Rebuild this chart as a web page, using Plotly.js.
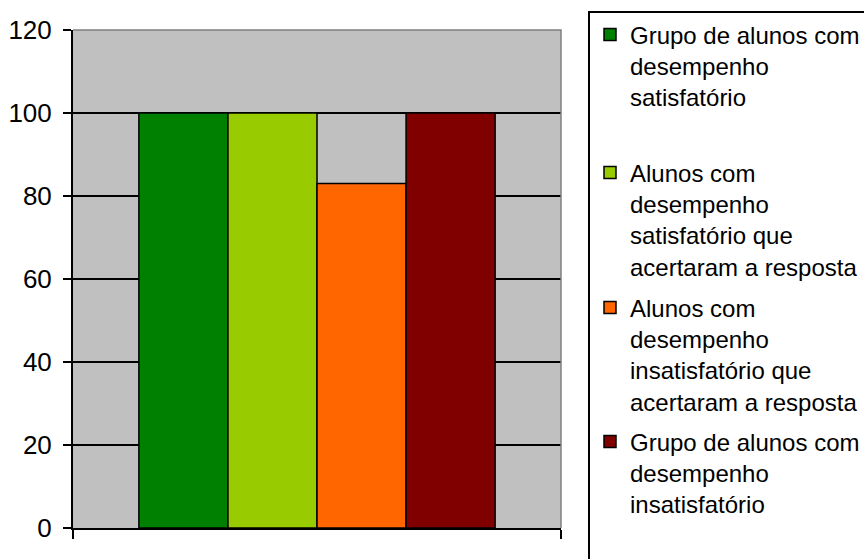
<!DOCTYPE html>
<html>
<head>
<meta charset="utf-8">
<script src="https://cdn.plot.ly/plotly-3.0.1.min.js"></script>
<style>
  html, body { margin: 0; padding: 0; background: #ffffff; }
  #chart { width: 864px; height: 559px; }
</style>
</head>
<body>
<div id="chart"></div>
<script>
// Single category, four groups of students (percent)
const categories = ['Desempenho'];
const seriesNames = [
  'Grupo de alunos com<br>desempenho<br>satisfatório',
  'Alunos com<br>desempenho<br>satisfatório que<br>acertaram a resposta',
  'Alunos com<br>desempenho<br>insatisfatório que<br>acertaram a resposta',
  'Grupo de alunos com<br>desempenho<br>insatisfatório'
];
const seriesValues = [[100], [100], [83], [100]];
const seriesColors = ['#008000', '#99CC00', '#FF6600', '#800000'];
const yTicks = [0, 20, 40, 60, 80, 100, 120];

// plot area in pixels
const W = 864, H = 559;
const L = 73, R = 561, T = 30, B = 528;
const px2x = p => (p - L) / (R - L);
const px2y = p => (B - p) / (B - T);

const FONT = 'Liberation Sans, Arial, Helvetica, sans-serif';
const legendIds = ['legend', 'legend2', 'legend3', 'legend4'];
const legendTops = [12.5, 150.5, 285.5, 419.5];

const traces = seriesNames.map((name, i) => ({
  type: 'bar',
  name: name,
  x: categories,
  y: seriesValues[i],
  marker: { color: seriesColors[i], line: { color: '#000000', width: 1.5 } },
  legend: legendIds[i],
  hoverinfo: 'y'
}));

const layout = {
  width: W, height: H,
  margin: { l: L, r: W - R, t: T, b: H - B, pad: 0, autoexpand: false },
  paper_bgcolor: '#ffffff',
  plot_bgcolor: '#C0C0C0',
  font: { family: FONT, size: 24, color: '#000000' },
  barmode: 'group',
  bargap: 0.27,
  bargroupgap: 0,
  showlegend: true,
  xaxis: {
    type: 'category',
    showticklabels: false,
    ticks: 'outside',
    tickson: 'boundaries',
    ticklen: 9,
    tickwidth: 1.5,
    tickcolor: '#000000',
    showline: true,
    linecolor: '#000000',
    linewidth: 2,
    showgrid: false,
    zeroline: false,
    fixedrange: true
  },
  yaxis: {
    range: [0, 120],
    tickvals: yTicks,
    ticktext: yTicks.map(String),
    ticks: 'outside',
    ticklen: 8,
    tickwidth: 1.5,
    tickcolor: '#000000',
    ticklabelstandoff: 6,
    showline: true,
    linecolor: '#000000',
    linewidth: 2,
    showgrid: true,
    gridcolor: '#000000',
    gridwidth: 1.5,
    zeroline: false,
    tickfont: { family: FONT, size: 26, color: '#000000' },
    fixedrange: true
  },
  shapes: [
    // grey frame on the top and right edges of the plot area
    {
      type: 'path', xref: 'paper', yref: 'paper', layer: 'above',
      path: 'M0,1 L1,1 L1,0',
      line: { color: '#808080', width: 1.5 }
    },
    // legend frame
    {
      type: 'rect', xref: 'paper', yref: 'paper', layer: 'above',
      x0: px2x(589), x1: px2x(900), y0: px2y(600), y1: px2y(12),
      line: { color: '#000000', width: 2 },
      fillcolor: 'rgba(0,0,0,0)'
    }
  ]
};

legendIds.forEach((id, i) => {
  layout[id] = {
    x: px2x(590), xanchor: 'left',
    y: px2y(legendTops[i]), yanchor: 'top',
    bgcolor: 'rgba(0,0,0,0)',
    borderwidth: 0,
    valign: 'top',
    font: { family: FONT, size: 24, color: '#000000' }
  };
});

Plotly.newPlot('chart', traces, layout, { displayModeBar: false, staticPlot: true });
</script>
</body>
</html>
